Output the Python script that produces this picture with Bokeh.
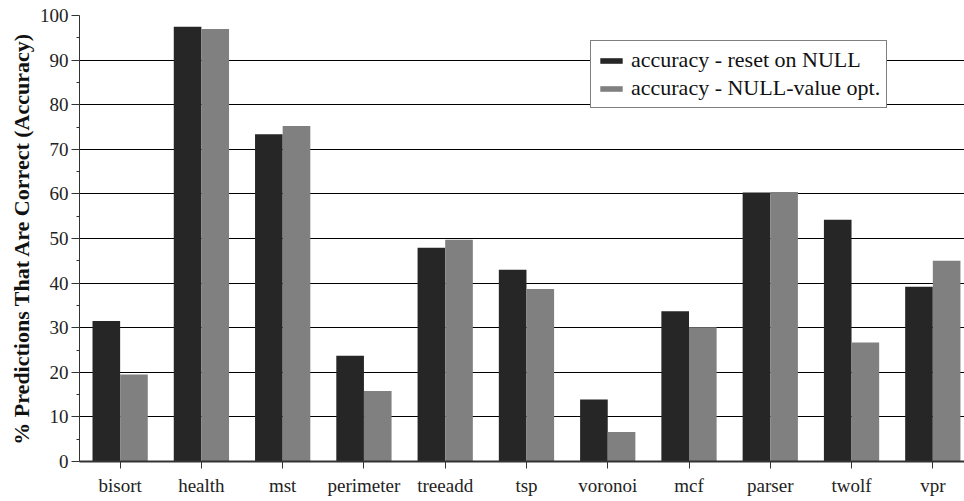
from bokeh.plotting import figure
from bokeh.models import Range1d, FixedTicker, Legend, LegendItem
from bokeh.embed import file_html
from bokeh.resources import INLINE

categories = ["bisort", "health", "mst", "perimeter", "treeadd", "tsp",
              "voronoi", "mcf", "parser", "twolf", "vpr"]
reset_on_null = [31.5, 97.5, 73.4, 23.7, 47.9, 43.0, 13.9, 33.7, 60.3, 54.2, 39.2]
null_value_opt = [19.5, 97.0, 75.2, 15.8, 49.7, 38.7, 6.6, 30.1, 60.4, 26.7, 45.0]
series_names = ["accuracy - reset on NULL", "accuracy - NULL-value opt."]
y_ticks = [0, 10, 20, 30, 40, 50, 60, 70, 80, 90, 100]

FONT = "'Liberation Serif', 'Times New Roman', serif"
DARK = "#262626"
GRAY = "#808080"

idx = list(range(len(categories)))
bw = 0.34

p = figure(width=964, height=501, output_backend="svg", toolbar_location=None,
           x_range=Range1d(-0.5, 10.39), y_range=Range1d(0, 100),
           min_border_left=79, min_border_right=0, min_border_top=15,
           min_border_bottom=40)
p.outline_line_color = None
p.background_fill_color = "white"

r1 = p.vbar(x=[i - bw / 2 for i in idx], top=reset_on_null, width=bw,
            fill_color=DARK, line_color=None)
r2 = p.vbar(x=[i + bw / 2 for i in idx], top=null_value_opt, width=bw,
            fill_color=GRAY, line_color=None)

# axes
p.xaxis.ticker = FixedTicker(ticks=idx)
p.xaxis.major_label_overrides = {i: c for i, c in zip(idx, categories)}
p.xaxis.major_label_text_font = FONT
p.xaxis.major_label_text_font_size = "19px"
p.xaxis.major_label_text_color = "#222222"
p.xaxis.major_tick_out = 7
p.xaxis.major_tick_in = 0
p.xaxis.minor_tick_line_color = None
p.xaxis.axis_line_color = "#333333"
p.xaxis.axis_line_width = 2
p.xaxis.major_tick_line_color = "#333333"
p.xaxis.major_label_standoff = 6

p.yaxis.ticker = FixedTicker(ticks=y_ticks, minor_ticks=[v + 5 for v in y_ticks[:-1]])
p.yaxis.major_label_text_font = FONT
p.yaxis.major_label_text_font_size = "19px"
p.yaxis.major_label_text_color = "#222222"
p.yaxis.major_tick_out = 8
p.yaxis.major_tick_in = 0
p.yaxis.minor_tick_out = 3
p.yaxis.minor_tick_in = 0
p.yaxis.axis_line_color = "#333333"
p.yaxis.major_tick_line_color = "#333333"
p.yaxis.minor_tick_line_color = "#333333"
p.yaxis.major_label_standoff = 3
p.yaxis.axis_label = "% Predictions That Are Correct (Accuracy)"
p.yaxis.axis_label_text_font = FONT
p.yaxis.axis_label_text_font_size = "22px"
p.yaxis.axis_label_text_font_style = "bold"
p.yaxis.axis_label_text_color = "#111111"
p.yaxis.axis_label_standoff = 3

p.xgrid.grid_line_color = None
p.ygrid.ticker = FixedTicker(ticks=y_ticks)
p.ygrid.grid_line_color = "black"
p.ygrid.grid_line_width = 1

legend = Legend(items=[LegendItem(label=series_names[0], renderers=[r1]),
                       LegendItem(label=series_names[1], renderers=[r2])],
                location=(511, 353))
legend.label_text_font = FONT
legend.label_text_font_size = "22px"
legend.label_text_color = "#111111"
legend.glyph_width = 28
legend.glyph_height = 7
legend.label_height = 22
legend.label_standoff = 6
legend.spacing = 2
legend.padding = 6
legend.margin = 0
legend.border_line_color = "black"
legend.border_line_width = 1
legend.background_fill_color = "white"
legend.background_fill_alpha = 1
p.add_layout(legend, "center")

open("out.html", "w").write(file_html(p, INLINE))
